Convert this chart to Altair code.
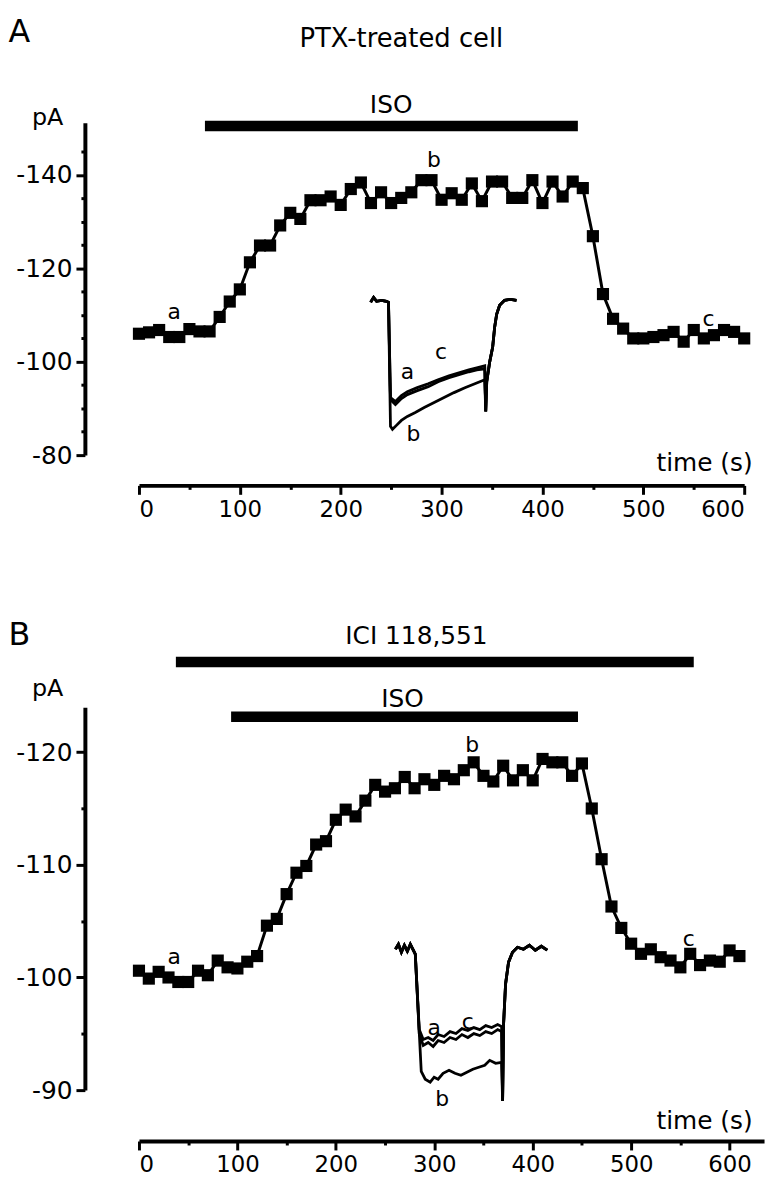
import altair as alt
import pandas as pd

FONT = "DejaVu Sans"

# ---------------- Panel A : PTX-treated cell ----------------
A_TIME = [0, 10, 20, 30, 40, 50, 60, 70, 80, 90,
          100, 110, 120, 130, 140, 150, 160, 170, 180, 190,
          200, 210, 220, 230, 240, 250, 260, 270, 280, 290,
          300, 310, 320, 330, 340, 350, 360, 370, 380, 390,
          400, 410, 420, 430, 440, 450, 460, 470, 480, 490,
          500, 510, 520, 530, 540, 550, 560, 570, 580, 590, 600]
A_CURRENT = [-106.0, -106.3, -106.8, -105.3, -105.3, -107.0, -106.5, -106.5, -109.6, -112.9,
             -115.5, -121.3, -124.9, -124.9, -129.2, -131.9, -130.6, -134.6, -134.6, -135.4,
             -133.6, -137.0, -138.4, -134.0, -136.3, -134.0, -135.1, -136.3, -138.9, -138.9,
             -134.7, -136.1, -134.7, -138.2, -134.4, -138.6, -138.6, -135.1, -135.1, -138.9,
             -134.0, -138.6, -135.4, -138.6, -137.2, -126.9, -114.5, -109.2, -107.1, -105.0,
             -105.0, -105.3, -105.7, -106.4, -104.3, -106.8, -105.0, -105.7, -106.8, -106.4, -105.0]
A_BAR_LABEL = ["ISO"]
A_BAR_START = [65.4]
A_BAR_END = [435.1]
A_BAR_LEVEL = [-150.5]
A_BAR_TEXT_T = [250]
A_BAR_TEXT_Y = [-153.3]
A_LETTERS = ["a", "b", "c"]
A_LETTER_T = [34.9, 292.4, 564.6]
A_LETTER_Y = [-110.6, -143.2, -109.2]

# inset current traces of panel A (ms, arbitrary current units)
A_HOOK_MS = [0, 3, 6, 11, 16, 18]
A_HOOK_AMP = [-2, 3, -1, 0, -1, -2]
A_TRACE_A_MS = [20, 25, 31, 37, 47, 58, 68, 79, 89, 99, 107, 115]
A_TRACE_A_AMP = [-100, -105, -99, -95, -91, -87, -82, -78, -75, -72, -70, -69]
A_TRACE_C_MS = [20, 25, 31, 37, 47, 58, 68, 79, 89, 99, 107, 115]
A_TRACE_C_AMP = [-98, -102, -96, -92, -88, -84, -80, -76, -73, -70, -68, -66]
A_TRACE_B_MS = [20, 22, 26, 31, 37, 45, 54, 64, 74, 84, 95, 105, 115]
A_TRACE_B_AMP = [-127, -130, -126, -121, -117, -113, -108, -103, -98, -93, -88, -84, -80]
A_RETURN_MS = [116, 117, 120, 123, 125, 127, 130, 135, 141, 147]
A_RETURN_AMP = [-112, -82, -62, -47, -27, -14, -5, 0, 1, 0]
A_INSET_LETTER_MS = [37, 43, 71]
A_INSET_LETTER_AMP = [-72, -135, -52]

# ---------------- Panel B : ICI 118,551 ----------------
B_TIME = [0, 10, 20, 30, 40, 50, 60, 70, 80, 90,
          100, 110, 120, 130, 140, 150, 160, 170, 180, 190,
          200, 210, 220, 230, 240, 250, 260, 270, 280, 290,
          300, 310, 320, 330, 340, 350, 360, 370, 380, 390,
          400, 410, 420, 430, 440, 450, 460, 470, 480, 490,
          500, 510, 520, 530, 540, 550, 560, 570, 580, 590, 600, 610]
B_CURRENT = [-100.6, -99.9, -100.5, -100.0, -99.6, -99.6, -100.6, -100.2, -101.5, -100.9,
             -100.8, -101.4, -101.9, -104.6, -105.2, -107.4, -109.3, -109.9, -111.8, -112.1,
             -114.0, -114.9, -114.3, -115.7, -117.1, -116.5, -116.8, -117.8, -116.8, -117.6,
             -117.1, -117.9, -117.6, -118.4, -119.1, -117.9, -117.4, -118.8, -117.5, -118.4,
             -117.5, -119.4, -119.1, -119.1, -117.9, -119.0, -115.0, -110.5, -106.3, -104.4,
             -103.0, -102.1, -102.5, -101.8, -101.5, -100.9, -102.1, -101.1, -101.5, -101.4,
             -102.4, -101.9]
B_BAR_LABEL = ["ICI 118,551", "ISO"]
B_BAR_START = [37.5, 93.6]
B_BAR_END = [563.6, 446.0]
B_BAR_LEVEL = [-128.0, -123.15]
B_BAR_TEXT_T = [281.9, 267.8]
B_BAR_TEXT_Y = [-129.6, -124.0]
B_LETTERS = ["a", "b", "c"]
B_LETTER_T = [35.8, 338.4, 558.5]
B_LETTER_Y = [-101.8, -120.6, -103.4]

B_HOOK_MS = [0, 3, 6, 9, 12, 15, 18, 20]
B_HOOK_AMP = [0, 5, -3, 4, -2, 5, -1, -5]
B_TRACE_A_MS = [24, 28, 33, 38, 43, 49, 55, 61, 67, 73, 79, 85, 91, 97, 103, 107]
B_TRACE_A_AMP = [-85, -97, -94, -98, -92, -94, -89, -91, -86, -89, -85, -87, -83, -85, -81, -83]
B_TRACE_C_MS = [24, 28, 33, 38, 43, 49, 55, 61, 67, 73, 79, 85, 91, 97, 103, 107]
B_TRACE_C_AMP = [-81, -91, -89, -92, -86, -88, -83, -85, -80, -82, -79, -81, -77, -79, -76, -78]
B_TRACE_B_MS = [26, 30, 35, 39, 43, 48, 54, 60, 66, 72, 78, 84, 90, 95, 101, 107]
B_TRACE_B_AMP = [-123, -131, -134, -129, -131, -125, -122, -125, -127, -124, -121, -119, -117, -112, -115, -114]
B_RETURN_MS = [108, 109, 111, 114, 118, 123, 129, 135, 141, 147, 153]
B_RETURN_AMP = [-153, -75, -35, -13, -3, 2, 0, 4, -1, 3, -1]
B_INSET_LETTER_MS = [39, 47, 73]
B_INSET_LETTER_AMP = [-79, -151, -73]


def y_axis(values, major, offset):
    return alt.Axis(
        values=values, offset=offset, title=None, grid=False,
        domainColor="black", domainWidth=4, tickColor="black", tickWidth=3,
        tickSize={"condition": {"test": f"datum.value % {major} == 0", "value": 9}, "value": 4},
        labelExpr=f"datum.value % {major} == 0 ? '-' + abs(datum.value) : ''",
        labelFont=FONT, labelFontSize=25, labelColor="black", labelPadding=4,
        labelOverlap=False,
    )


def x_axis(values, offset):
    return alt.Axis(
        values=values, offset=offset, title=None, grid=False,
        domainColor="black", domainWidth=4, tickColor="black", tickWidth=3,
        tickSize={"condition": {"test": "datum.value % 100 == 0", "value": 9}, "value": 4},
        labelExpr="datum.value % 100 == 0 ? datum.label : ''",
        labelFont=FONT, labelFontSize=23, labelColor="black", labelPadding=4,
        labelOverlap=False,
    )


def trace_frame(parts):
    rows = []
    for name, segs in parts.items():
        i = 0
        for ms, amp in segs:
            for m, a in zip(ms, amp):
                rows.append({"trace": name, "i": i, "ms": m, "amp": a})
                i += 1
    return pd.DataFrame(rows)


def note(text, x, y, size, align="center", baseline="middle"):
    return alt.Chart(pd.DataFrame({"t": [text]})).mark_text(
        font=FONT, fontSize=size, align=align, baseline=baseline, color="black"
    ).encode(x=alt.value(x), y=alt.value(y), text="t:N")


def build_panel(time, current, xs, ys, xaxis, yaxis, bars, letters,
                inset_df, ixs, iys, inset_letters, notes, width, height):
    df = pd.DataFrame({"time": time, "current": current})
    line = alt.Chart(df).mark_line(color="black", strokeWidth=3).encode(
        x=alt.X("time:Q", scale=xs, axis=xaxis),
        y=alt.Y("current:Q", scale=ys, axis=yaxis))
    pts = alt.Chart(df).mark_square(size=150, color="black", opacity=1).encode(
        x=alt.X("time:Q", scale=xs, axis=None),
        y=alt.Y("current:Q", scale=ys, axis=None))
    bar = alt.Chart(bars).mark_rule(color="black", strokeWidth=10.5, strokeCap="butt").encode(
        x=alt.X("start:Q", scale=xs, axis=None), x2="end:Q",
        y=alt.Y("level:Q", scale=ys, axis=None))
    bar_txt = alt.Chart(bars).mark_text(font=FONT, fontSize=25, baseline="alphabetic",
                                        color="black").encode(
        x=alt.X("tt:Q", scale=xs, axis=None),
        y=alt.Y("ty:Q", scale=ys, axis=None), text="label:N")
    let = alt.Chart(letters).mark_text(font=FONT, fontSize=22, baseline="middle",
                                       color="black").encode(
        x=alt.X("t:Q", scale=xs, axis=None),
        y=alt.Y("y:Q", scale=ys, axis=None), text="letter:N")
    ins = alt.Chart(inset_df).mark_line(color="black", strokeWidth=2.8).encode(
        x=alt.X("ms:Q", scale=ixs, axis=None),
        y=alt.Y("amp:Q", scale=iys, axis=None),
        detail="trace:N", order="i:Q")
    ins_let = alt.Chart(inset_letters).mark_text(font=FONT, fontSize=22, baseline="middle",
                                                 color="black").encode(
        x=alt.X("ms:Q", scale=ixs, axis=None),
        y=alt.Y("amp:Q", scale=iys, axis=None), text="letter:N")
    return alt.layer(line, pts, bar, bar_txt, let, ins, ins_let, *notes).resolve_scale(
        x="independent", y="independent").properties(width=width, height=height)


# ---- panel A ----
xsA = alt.Scale(domain=[0, 600], nice=False, zero=False)
ysA = alt.Scale(domain=[-151.2, -80], reverse=True, nice=False, zero=False)
insetA = trace_frame({
    "a": [(A_HOOK_MS, A_HOOK_AMP), (A_TRACE_A_MS, A_TRACE_A_AMP), (A_RETURN_MS, A_RETURN_AMP)],
    "c": [(A_HOOK_MS, A_HOOK_AMP), (A_TRACE_C_MS, A_TRACE_C_AMP), (A_RETURN_MS, A_RETURN_AMP)],
    "b": [(A_HOOK_MS, A_HOOK_AMP), (A_TRACE_B_MS, A_TRACE_B_AMP), (A_RETURN_MS, A_RETURN_AMP)],
})
panelA = build_panel(
    A_TIME, A_CURRENT, xsA, ysA,
    x_axis(list(range(0, 601, 50)), 30.5),
    y_axis(list(range(-145, -79, 5)), 20, 54.5),
    pd.DataFrame({"label": A_BAR_LABEL, "start": A_BAR_START, "end": A_BAR_END,
                  "level": A_BAR_LEVEL, "tt": A_BAR_TEXT_T, "ty": A_BAR_TEXT_Y}),
    pd.DataFrame({"letter": A_LETTERS, "t": A_LETTER_T, "y": A_LETTER_Y}),
    insetA,
    alt.Scale(domain=[0, 150], range=[233.5, 383.5], nice=False, zero=False),
    alt.Scale(domain=[-150, 10], range=[329, 169], nice=False, zero=False),
    pd.DataFrame({"letter": ["a", "b", "c"], "ms": A_INSET_LETTER_MS, "amp": A_INSET_LETTER_AMP}),
    [note("A", -131.5, -91, 32, align="left"),
     note("PTX-treated cell", 264.5, -84, 26),
     note("pA", -92, 2, 24, baseline="alphabetic"),
     note("time (s)", 618.5, 343, 25, align="right")],
    610, 335)

# ---- panel B ----
xsB = alt.Scale(domain=[0, 635], nice=False, zero=False)
ysB = alt.Scale(domain=[-124, -90], reverse=True, nice=False, zero=False)
insetB = trace_frame({
    "a": [(B_HOOK_MS, B_HOOK_AMP), (B_TRACE_A_MS, B_TRACE_A_AMP), (B_RETURN_MS, B_RETURN_AMP)],
    "c": [(B_HOOK_MS, B_HOOK_AMP), (B_TRACE_C_MS, B_TRACE_C_AMP), (B_RETURN_MS, B_RETURN_AMP)],
    "b": [(B_HOOK_MS, B_HOOK_AMP), (B_TRACE_B_MS, B_TRACE_B_AMP), (B_RETURN_MS, B_RETURN_AMP)],
})
panelB = build_panel(
    B_TIME, B_CURRENT, xsB, ysB,
    x_axis(list(range(0, 601, 50)), 51.3),
    y_axis(list(range(-120, -89, 5)), 10, 54.5),
    pd.DataFrame({"label": B_BAR_LABEL, "start": B_BAR_START, "end": B_BAR_END,
                  "level": B_BAR_LEVEL, "tt": B_BAR_TEXT_T, "ty": B_BAR_TEXT_Y}),
    pd.DataFrame({"letter": B_LETTERS, "t": B_LETTER_T, "y": B_LETTER_Y}),
    insetB,
    alt.Scale(domain=[0, 160], range=[258.5, 418.5], nice=False, zero=False),
    alt.Scale(domain=[-160, 10], range=[404, 234], nice=False, zero=False),
    pd.DataFrame({"letter": ["a", "b", "c"], "ms": B_INSET_LETTER_MS, "amp": B_INSET_LETTER_AMP}),
    [note("B", -131.5, -73, 32, align="left"),
     note("pA", -92, -11, 24, baseline="alphabetic"),
     note("time (s)", 618.5, 417, 25, align="right")],
    630, 386)

chart = alt.vconcat(panelA, panelB, spacing=98).properties(
    padding={"left": 0, "top": 4, "right": 5, "bottom": 5}
).configure_view(stroke=None)

chart.save("out.html", embed_options={"renderer": "svg", "actions": False})
